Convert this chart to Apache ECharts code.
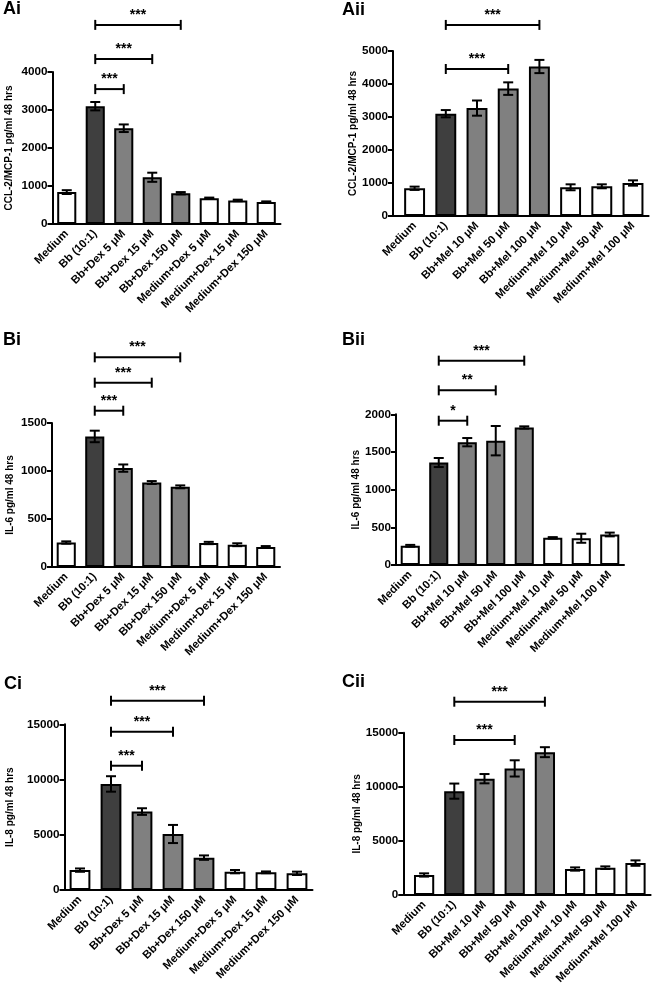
<!DOCTYPE html>
<html><head><meta charset="utf-8">
<script src="https://cdn.jsdelivr.net/npm/echarts@6/dist/echarts.min.js"></script>
<style>html,body{margin:0;padding:0;background:#fff}#c{width:653px;height:992px}</style>
</head><body><div id="c"></div><script>
// ---------- data ----------
const dexCategories = ['Medium','Bb (10:1)','Bb+Dex 5 \u03bcM','Bb+Dex 15 \u03bcM','Bb+Dex 150 \u03bcM','Medium+Dex 5 \u03bcM','Medium+Dex 15 \u03bcM','Medium+Dex 150 \u03bcM'];
const melCategories = ['Medium','Bb (10:1)','Bb+Mel 10 \u03bcM','Bb+Mel 50 \u03bcM','Bb+Mel 100 \u03bcM','Medium+Mel 10 \u03bcM','Medium+Mel 50 \u03bcM','Medium+Mel 100 \u03bcM'];

const aiValues  = [840, 3100, 2520, 1230, 810, 680, 620, 580];
const aiErrors  = [50, 110, 100, 120, 30, 15, 20, 15];
const aiiValues = [840, 3100, 3270, 3860, 4530, 870, 900, 1000];
const aiiErrors = [50, 110, 230, 190, 200, 90, 60, 80];
const biValues  = [255, 1360, 1030, 880, 835, 250, 232, 208];
const biErrors  = [12, 60, 38, 15, 15, 12, 15, 10];
const biiValues = [255, 1360, 1630, 1650, 1825, 360, 355, 405];
const biiErrors = [12, 60, 55, 195, 15, 10, 60, 25];
const ciValues  = [1800, 9600, 7100, 5070, 2930, 1660, 1600, 1510];
const ciErrors  = [150, 700, 300, 820, 200, 150, 80, 150];
const ciiValues = [1850, 9600, 10750, 11700, 13200, 2400, 2525, 2950];
const ciiErrors = [150, 700, 430, 750, 460, 150, 120, 250];

// significance brackets: [from category, to category, level, label]
const aiBrackets  = [[1,2,3550,'***'],[1,3,4340,'***'],[1,4,5240,'***']];
const aiiBrackets = [[1,3,4455,'***'],[1,4,5790,'***']];
const biBrackets  = [[1,2,1628,'***'],[1,3,1920,'***'],[1,4,2184,'***']];
const biiBrackets = [[1,2,1915,'*'],[1,3,2318,'**'],[1,4,2712,'***']];
const ciBrackets  = [[1,2,11250,'***'],[1,3,14330,'***'],[1,4,17140,'***']];
const ciiBrackets = [[1,3,14325,'***'],[1,4,17865,'***']];

const yNames = ['CCL-2/MCP-1 pg/ml 48 hrs','IL-6 pg/ml 48 hrs','IL-8 pg/ml 48 hrs'];
const panelTitles = ['Ai','Aii','Bi','Bii','Ci','Cii'];
const yMax = [4000, 5000, 1500, 2000, 15000, 15000];
const yStep = [1000, 1000, 500, 500, 5000, 5000];

// ---------- layout / style ----------
const FONT = 'Liberation Sans, Arial, Helvetica, sans-serif';
const panels = [
  {title:panelTitles[0], cats:dexCategories, vals:aiValues,  errs:aiErrors,  br:aiBrackets,  name:yNames[0], max:yMax[0], step:yStep[0], left:52.5, top:72,    width:228,   height:152,   off:0,   gap:38, tx:3,   ty:17},
  {title:panelTitles[1], cats:melCategories, vals:aiiValues, errs:aiiErrors, br:aiiBrackets, name:yNames[0], max:yMax[1], step:yStep[1], left:399,  top:51,    width:249.6, height:165,   off:6,   gap:35, tx:342, ty:18},
  {title:panelTitles[2], cats:dexCategories, vals:biValues,  errs:biErrors,  br:biBrackets,  name:yNames[1], max:yMax[2], step:yStep[2], left:52,   top:423,   width:228,   height:144,   off:0,   gap:37, tx:3,   ty:348},
  {title:panelTitles[3], cats:melCategories, vals:biiValues, errs:biiErrors, br:biiBrackets, name:yNames[1], max:yMax[3], step:yStep[3], left:396,  top:414.3, width:228,   height:150.7, off:0,   gap:35, tx:342, ty:348},
  {title:panelTitles[4], cats:dexCategories, vals:ciValues,  errs:ciErrors,  br:ciBrackets,  name:yNames[2], max:yMax[4], step:yStep[4], left:64.5, top:724.3, width:248,   height:165.7, off:0,   gap:49, tx:4,   ty:692},
  {title:panelTitles[5], cats:melCategories, vals:ciiValues, errs:ciiErrors, br:ciiBrackets, name:yNames[2], max:yMax[5], step:yStep[5], left:409,  top:732.7, width:241.6, height:162.3, off:5.7, gap:40, tx:342, ty:690}
];
function barColor(i){ return i === 1 ? '#3f3f3f' : (i >= 2 && i <= 4 ? '#808080' : '#ffffff'); }

const grid = [], xAxis = [], yAxis = [], series = [], graphic = [];
panels.forEach((p, k) => {
  grid.push({left:p.left, top:p.top, width:p.width, height:p.height, containLabel:false, outerBoundsMode:'none'});
  xAxis.push({type:'category', gridIndex:k, data:p.cats, boundaryGap:true,
    axisLine:{lineStyle:{color:'#000', width:2}},
    axisTick:{alignWithLabel:true, length:5, lineStyle:{color:'#000', width:2}},
    axisLabel:{interval:0, rotate:45, margin:8, color:'#000', fontWeight:'bold', fontSize:11.3, fontFamily:FONT},
    splitLine:{show:false}});
  yAxis.push({type:'value', gridIndex:k, min:0, max:p.max, interval:p.step, offset:p.off,
    name:p.name, nameLocation:'middle', nameGap:p.gap,
    nameTextStyle:{color:'#000', fontWeight:'bold', fontSize:10, fontFamily:FONT},
    axisLine:{show:true, lineStyle:{color:'#000', width:2}},
    axisTick:{show:true, length:5, lineStyle:{color:'#000', width:2}},
    axisLabel:{margin:5, color:'#000', fontWeight:'bold', fontSize:11.7, fontFamily:FONT, formatter:function(v){ return String(v); }},
    splitLine:{show:false}});
  series.push({type:'bar', xAxisIndex:k, yAxisIndex:k, barWidth:'67%',
    data:p.vals.map((v,i)=>({value:v, itemStyle:{color:barColor(i), borderColor:'#000', borderWidth:2}})),
    emphasis:{disabled:true}, animation:false, z:2});
  series.push({type:'custom', xAxisIndex:k, yAxisIndex:k, clip:false, animation:false, z:3,
    data:p.vals.map((v,i)=>[i, v, p.errs[i]]), encode:{x:0, y:1},
    renderItem:function(params, api){
      const i = api.value(0), v = api.value(1), e = api.value(2);
      const t = api.coord([i, v + e]), b = api.coord([i, v - e]);
      const hw = 5, st = {stroke:'#000', lineWidth:2};
      return {type:'group', children:[
        {type:'line', shape:{x1:t[0], y1:t[1], x2:b[0], y2:b[1]}, style:st},
        {type:'line', shape:{x1:t[0]-hw, y1:t[1], x2:t[0]+hw, y2:t[1]}, style:st},
        {type:'line', shape:{x1:b[0]-hw, y1:b[1], x2:b[0]+hw, y2:b[1]}, style:st}
      ]};
    }});
  series.push({type:'custom', xAxisIndex:k, yAxisIndex:k, clip:false, animation:false, z:3,
    data:p.br.map(b=>[b[0], b[1], b[2]]), encode:{x:0, y:2},
    renderItem:function(params, api){
      const idx = params.dataIndex;
      const a = api.coord([api.value(0), api.value(2)]), b = api.coord([api.value(1), api.value(2)]);
      const st = {stroke:'#000', lineWidth:2}, ch = 5;
      const children = [
        {type:'line', shape:{x1:a[0], y1:a[1], x2:b[0], y2:b[1]}, style:st},
        {type:'line', shape:{x1:a[0], y1:a[1]-ch, x2:a[0], y2:a[1]+ch}, style:st},
        {type:'line', shape:{x1:b[0], y1:b[1]-ch, x2:b[0], y2:b[1]+ch}, style:st},
        {type:'text', x:(a[0]+b[0])/2, y:a[1]-10, style:{text:p.br[idx][3], align:'center', verticalAlign:'middle', fill:'#000', font:'bold 14px ' + FONT}}
      ];
      if (idx === 0 && p.off > 0) {
        const z = api.coord([0, 0]);
        const cs = params.coordSys;
        children.push({type:'line', shape:{x1:cs.x - p.off, y1:z[1], x2:cs.x, y2:z[1]}, style:st});
      }
      return {type:'group', children:children};
    }});
  graphic.push({type:'text', left:p.tx, top:p.ty - 17, style:{text:p.title, fill:'#000', font:'bold 18px ' + FONT}});
});

const chart = echarts.init(document.getElementById('c'), null, {renderer:'canvas'});
chart.setOption({animation:false, backgroundColor:'#fff', grid, xAxis, yAxis, series, graphic});
</script></body></html>
